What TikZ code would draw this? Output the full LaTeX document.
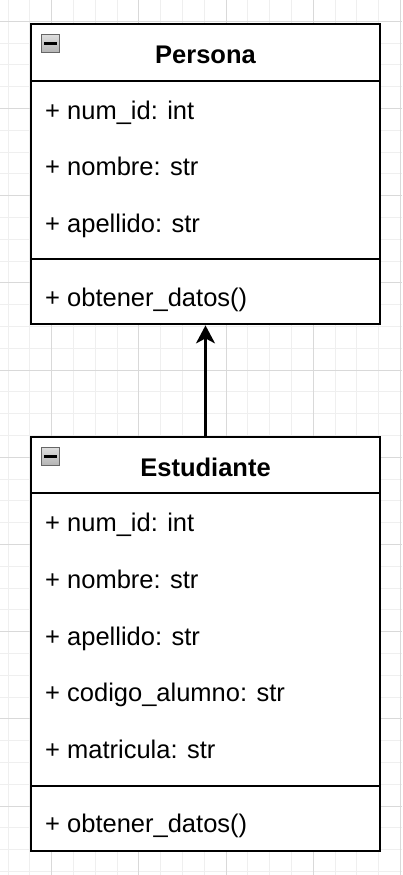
\documentclass[tikz,border=0pt]{standalone}
\usepackage{fontspec}
\setmainfont{Liberation Sans}
\usetikzlibrary{arrows.meta}
\definecolor{gridminor}{HTML}{EFEFEF}
\definecolor{gridmajor}{HTML}{D9D9D9}
\tikzset{
  classbox/.style={draw=black, fill=white, line width=2.2bp, rectangle, inner sep=0pt},
  sepline/.style={draw=black, line width=2.2bp},
  title/.style={anchor=base, inner sep=0pt, font=\fontsize{25.5bp}{30bp}\selectfont\bfseries},
  member/.style={anchor=base west, inner sep=0pt, font=\fontsize{25.5bp}{30bp}\selectfont},
  minusicon/.style={draw=gray!80!black, line width=1.2bp, top color=gray!25, bottom color=gray!60, rectangle, inner sep=0pt, minimum width=18.5bp, minimum height=18.5bp},
  inherit/.style={draw=black, line width=2.2bp, -{Stealth[length=18bp, width=19bp, inset=5bp]}}
}
\begin{document}
\begin{tikzpicture}[x=1bp, y=-1bp]
\useasboundingbox (0,0) rectangle (402,875);
\fill[white] (0,0) rectangle (402,875);
% grid
\foreach \k in {-2,...,16} {
  \pgfmathsetmacro{\xx}{51.6+21.8*\k}
  \draw[gridminor, line width=1bp] (\xx,0) -- (\xx,875);
}
\foreach \k in {-17,...,23} {
  \pgfmathsetmacro{\yy}{370+21.8*\k}
  \draw[gridminor, line width=1bp] (0,\yy) -- (402,\yy);
}
\foreach \k in {0,4,8,12,16} {
  \pgfmathsetmacro{\xx}{51.6+21.8*(\k-0)}
  \draw[gridmajor, line width=1bp] (\xx,0) -- (\xx,875);
}
\foreach \k in {-16,-12,-8,-4,0,4,8,12,16,20} {
  \pgfmathsetmacro{\yy}{370+21.8*\k}
  \draw[gridmajor, line width=1bp] (0,\yy) -- (402,\yy);
}

% Persona
\node[classbox, minimum width=349bp, minimum height=300.3bp] (persona) at (205.5,174.15) {};
\draw[sepline] (31,80.7) -- (380,80.7);
\draw[sepline] (31,259.3) -- (380,259.3);
\node[minusicon] (picon) at (50.5,43.5) {};
\draw[black, line width=2.2bp] ([xshift=3.5bp]picon.west) -- ([xshift=-3.5bp]picon.east);
\node[title] (ptitle) at (205.5,63.3) {Persona};
\node[member] (p1) at (45,119.2) {+ num\_id: int};
\node[member] (p2) at (45,175.9) {+ nombre: str};
\node[member] (p3) at (45,232.6) {+ apellido: str};
\node[member] (p4) at (45,306.5) {+ obtener\_datos()};

% Estudiante
\node[classbox, minimum width=349bp, minimum height=413.4bp] (estudiante) at (205.5,644.0) {};
\draw[sepline] (31,493.3) -- (380,493.3);
\draw[sepline] (31,785.9) -- (380,785.9);
\node[minusicon] (eicon) at (50.5,456.5) {};
\draw[black, line width=2.2bp] ([xshift=3.5bp]eicon.west) -- ([xshift=-3.5bp]eicon.east);
\node[title] (etitle) at (205.5,476) {Estudiante};
\node[member] (e1) at (45,531.8) {+ num\_id: int};
\node[member] (e2) at (45,588.5) {+ nombre: str};
\node[member] (e3) at (45,645.2) {+ apellido: str};
\node[member] (e4) at (45,701.9) {+ codigo\_alumno: str};
\node[member] (e5) at (45,758.6) {+ matricula: str};
\node[member] (e6) at (45,832.9) {+ obtener\_datos()};

% inheritance
\draw[inherit] (estudiante.north) -- (persona.south);
\end{tikzpicture}
\end{document}
